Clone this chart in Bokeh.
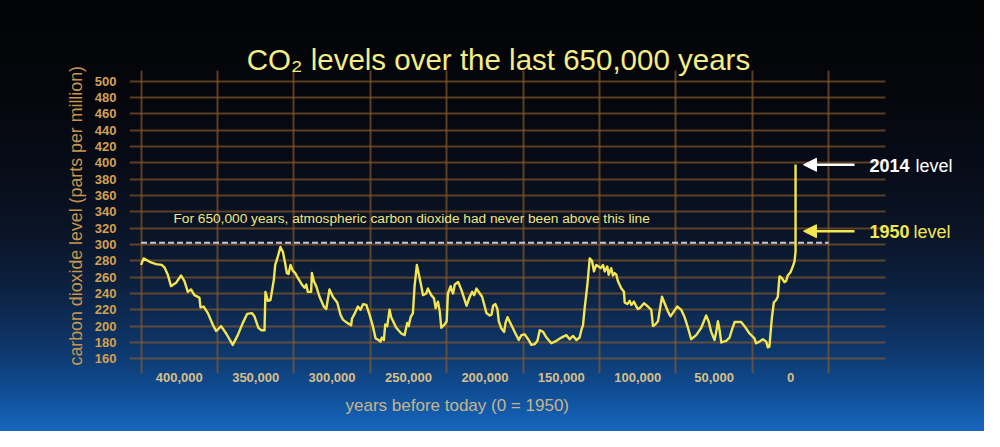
from bokeh.plotting import figure
from bokeh.models import Range1d, FixedTicker, NumeralTickFormatter, Label, Arrow, NormalHead, Title
from bokeh.embed import file_html
from bokeh.resources import INLINE

# ---- data (years before 1950, CO2 ppm) ----
years = [425000, 423300, 418500, 415200, 411500, 409700, 407500, 405400, 402100, 398800,
         396600, 394400, 392300, 390100, 386800, 386100, 384000, 381300, 378100, 375900,
         372600, 369300, 365000, 361700, 358400, 355600, 352500, 350800, 348200, 346400,
         344200, 343600, 342000, 340300, 338100, 337200, 335500, 333800, 332200, 330700,
         329600, 328500, 327200, 325700, 324100, 322400, 319800, 318000, 316900, 315900,
         313700, 313200, 311900, 310400, 308200, 305400, 303800, 301700, 299500, 296600,
         294500, 292900, 290100, 287500, 287000, 285300, 283100, 281400, 279600, 277600,
         275500, 273300, 271500, 269600, 268300, 267400, 266100, 265200, 263900, 262400,
         261300, 258000, 254700, 252500, 250800, 249900, 248600, 247100, 246000, 244500,
         243400, 241600, 240500, 238400, 237300, 235100, 233300, 232200, 230700, 229600,
         228500, 226400, 225000, 224200, 222400,
         221800, 220800, 219700, 217500, 215300, 212000, 209900, 208300, 207000, 205500,
         203300, 201800, 200100, 199000, 196800, 195700, 194600, 193100, 191800, 190900,
         189200, 187400, 186500, 185200, 182600, 180000, 177800, 176100, 173900, 171700,
         169600, 167400, 165600, 164100, 161900, 159700, 156500, 153200, 149900, 146700,
         144500, 142300, 140100, 138000, 136900, 135800, 134700, 132900, 131400, 129900,
         128600, 127100, 125500, 124200, 122700, 121600, 119900, 119000, 117300, 116200,
         115100, 114000, 112900, 110700, 109000, 108500, 106800, 105300, 104200, 102400,
         100900, 99800, 98100, 95900, 93300, 91100, 90000, 88500, 86700, 85700,
         84100, 82400, 80200, 78500, 76300, 74100, 71500, 69300, 67100, 65000,
         61700, 58400, 55200, 53600, 51900, 49700, 48600, 47500, 46400, 45300,
         42100, 39900, 38400, 36600, 32300, 30100, 26800, 23600, 22500, 20300,
         18100, 15900, 14800, 13800, 12200, 10900, 9400, 8300, 7200, 5700,
         4000, 2900, 1800, 0, -1500, -2600, -3300, -3300]
co2 = [275, 283, 278, 276, 275, 272, 263, 249, 253, 262,
       255, 242, 245, 238, 235, 223, 224, 216, 202, 194,
       200, 191, 177, 189, 204, 215, 216, 212, 198, 195,
       195, 242, 231, 232, 257, 275, 285, 297, 291, 277,
       265, 264, 275, 268, 265, 259, 251, 247, 251, 242,
       242, 265, 255, 249, 236, 224, 221, 245, 236, 229,
       214, 208, 204, 201, 209, 215, 224, 220, 227, 226,
       214, 200, 185, 183, 181, 186, 183, 202, 200, 220,
       211, 198, 191, 189, 204, 200, 211, 216, 249, 275,
       265, 249, 238, 240, 246, 238, 234, 222, 230, 219,
       198, 202, 206, 240, 249,
       244, 240, 251, 254, 244, 225, 236, 242, 238, 246,
       240, 236, 224, 216, 213, 214, 225, 227, 221, 206,
       197, 193, 204, 211, 201, 191, 183, 189, 190, 184,
       177, 178, 182, 195, 193, 186, 179, 182, 186, 189,
       184, 188, 183, 186, 195, 201, 222, 251, 283, 280,
       267, 275, 273, 271, 275, 267, 273, 263, 271, 262,
       265, 263, 255, 246, 242, 229, 227, 231, 226, 230,
       224, 221, 223, 228, 224, 220, 200, 202, 206, 218,
       236, 228, 218, 212, 218, 224, 220, 211, 198, 184,
       189, 198, 213, 206, 193, 183, 193, 206, 195, 180,
       182, 186, 195, 205, 205, 200, 191, 185, 179, 181,
       184, 181, 174, 175, 210, 229, 232, 236, 261, 259,
       254, 255, 262, 266, 273, 279, 291, 398]

x_tick_years = [400000, 350000, 300000, 250000, 200000, 150000, 100000, 50000, 0]
x_grid_years = [425000, 375000, 325000, 275000, 225000, 175000, 125000, 75000, 25000, -25000]
y_ticks = [160, 180, 200, 220, 240, 260, 280, 300, 320, 340, 360, 380, 400, 420, 440, 460, 480, 500]

limit_years = [425000, -25000]
limit_ppm = 302
level_2014 = 397.6
level_1950 = 316.3

title_text = "CO\u2082 levels over the last 650,000 years"
note_text = "For 650,000 years, atmospheric carbon dioxide had never been above this line"
x_title = "years before today (0 = 1950)"
y_title = "carbon dioxide level (parts per million)"

FONT = "Liberation Sans"

# grid extent (data units)
GRID_X = (-62170, 432560)
GRID_Y = (142.0, 513.1)

p = figure(width=984, height=431, output_backend="svg", toolbar_location=None,
           x_range=Range1d(432560, -126950), y_range=Range1d(142.0, 598.8),
           min_border_left=129, min_border_right=0, min_border_top=0, min_border_bottom=58)
p.background_fill_color = None
p.border_fill_color = None
p.outline_line_color = None
p.styles = {"background": "linear-gradient(to bottom, #020304 0px, #05070d 100px, #070c18 170px, "
                          "#0a1426 230px, #0c1f3c 280px, #0d2c56 320px, #0e3a70 355px, "
                          "#0f4a8e 385px, #1259a8 410px, #1868c0 431px)"}

GRID_COLOR = "#8a5a2a"
GRID_ALPHA = 0.65
xg = p.xgrid[0]
yg = p.ygrid[0]
if "cross_bounds" in xg.properties():
    xg.ticker = FixedTicker(ticks=x_grid_years)
    yg.ticker = FixedTicker(ticks=y_ticks)
    xg.cross_bounds = GRID_Y
    yg.cross_bounds = GRID_X
    for g in (xg, yg):
        g.grid_line_color = GRID_COLOR
        g.grid_line_alpha = GRID_ALPHA
        g.grid_line_width = 2
else:
    p.grid.visible = False
    p.segment(x0=x_grid_years, x1=x_grid_years, y0=[GRID_Y[0]] * len(x_grid_years),
              y1=[GRID_Y[1]] * len(x_grid_years), line_color=GRID_COLOR,
              line_alpha=GRID_ALPHA, line_width=2)
    p.segment(x0=[GRID_X[1]] * len(y_ticks), x1=[GRID_X[0]] * len(y_ticks), y0=y_ticks,
              y1=y_ticks, line_color=GRID_COLOR, line_alpha=GRID_ALPHA, line_width=2)

# axes
for ax in (p.xaxis[0], p.yaxis[0]):
    ax.major_tick_line_color = None
    ax.minor_tick_line_color = None
    ax.axis_line_color = None
    ax.major_label_text_font = FONT
    ax.major_label_text_font_style = "bold"
    ax.major_label_text_font_size = "13px"

p.xaxis.ticker = FixedTicker(ticks=x_tick_years)
p.xaxis.formatter = NumeralTickFormatter(format="0,0")
p.xaxis.major_label_text_color = "#d8bf88"
p.xaxis.major_label_standoff = -7

p.yaxis.ticker = FixedTicker(ticks=y_ticks)
p.yaxis.major_label_text_color = "#d4a050"
p.yaxis.major_label_standoff = 7

p.add_layout(Title(text=y_title, align="left", offset=8, text_font=FONT,
                   text_font_style="normal", text_font_size="17.8px",
                   text_color="#c8964c", standoff=11), "left")
p.add_layout(Title(text=x_title, align="left", offset=216, text_font=FONT,
                   text_font_style="normal", text_font_size="17px",
                   text_color="#c8b48c", standoff=19), "below")

# threshold line
p.line(x=limit_years, y=[limit_ppm, limit_ppm], line_color="#c8c8d2", line_width=2, line_dash="6 3")

# CO2 curve
p.line(x=years, y=co2, line_color="#f3e650", line_width=2.4, line_join="round")

# annotations
def add_text(x, y, text, size, color, style="normal", align="left"):
    p.add_layout(Label(x=x, y=y, text=text, text_align=align, text_baseline="alphabetic",
                       text_font=FONT, text_font_style=style, text_font_size=size,
                       text_color=color))

add_text(191100, 526.6, title_text, "29.5px", "#f4ee84", align="center")
add_text(403800, 332.2, note_text, "13.7px", "#f0e67e")

p.add_layout(Arrow(end=NormalHead(size=13, fill_color="white", line_color="white"),
                   x_start=-41900, y_start=level_2014, x_end=-8500, y_end=level_2014,
                   line_color="white", line_width=2.5))
p.add_layout(Arrow(end=NormalHead(size=13, fill_color="#f3e650", line_color="#f3e650"),
                   x_start=-41900, y_start=level_1950, x_end=-8500, y_end=level_1950,
                   line_color="#f3e650", line_width=2.5))

add_text(-51700, 396.7, "2014", "18px", "white", style="bold")
add_text(-81800, 396.7, "level", "18px", "white")
add_text(-51700, 315.5, "1950", "18px", "#f3e650", style="bold")
add_text(-80500, 315.5, "level", "18px", "#f3e650")

open("out.html", "w").write(file_html(p, INLINE))
